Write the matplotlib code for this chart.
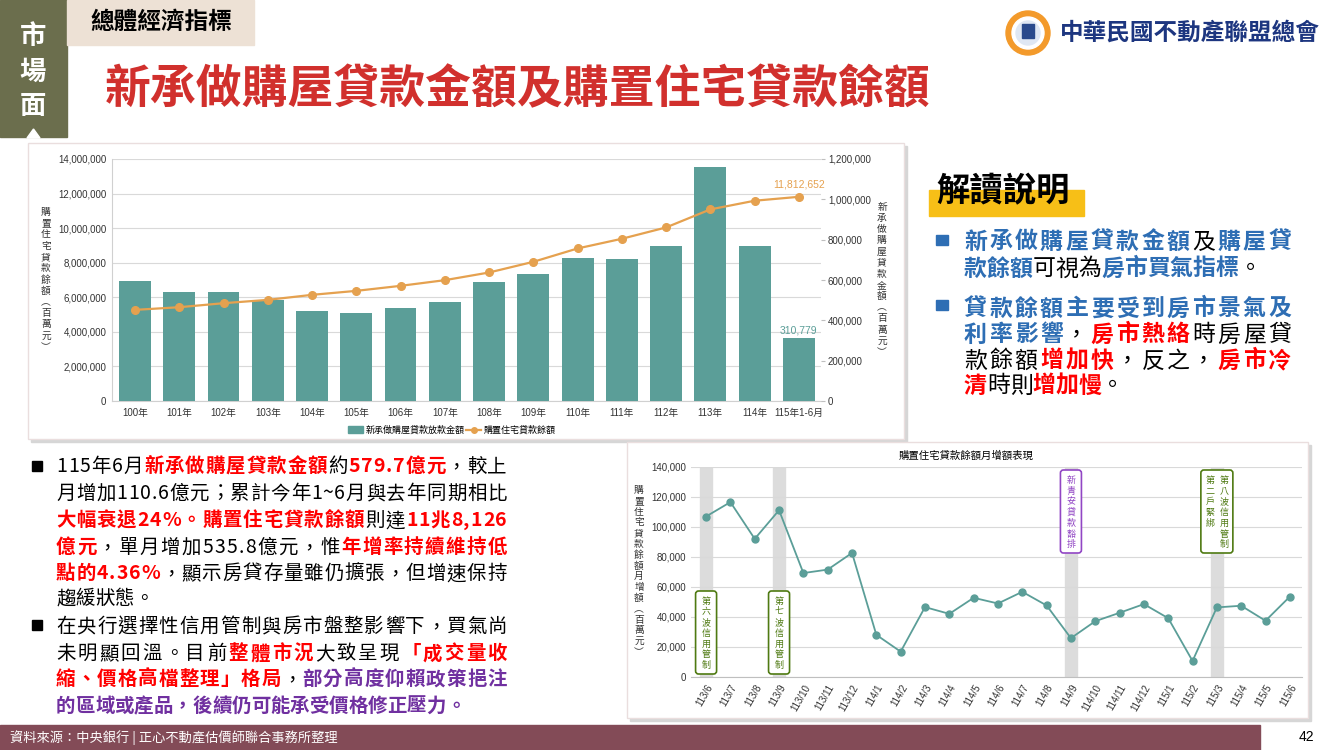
import numpy as np
import matplotlib
matplotlib.use('Agg')
import matplotlib.pyplot as plt
from matplotlib.patches import Rectangle, Circle, Polygon, FancyBboxPatch
from matplotlib.lines import Line2D
from matplotlib.ticker import FuncFormatter

# ---- data ----
years = ['100年', '101年', '102年', '103年', '104年', '105年', '106年', '107年',
         '108年', '109年', '110年', '111年', '112年', '113年', '114年', '115年1-6月']
new_loans = [595900, 541200, 541200, 501500, 446900, 437000, 461800, 491600,
             590900, 630600, 710100, 705100, 766300, 1161900, 769700, 310779]
balance = [5271700, 5426000, 5658000, 5851000, 6141000, 6372000, 6662000, 6990000,
           7434000, 8052000, 8825000, 9385000, 10041000, 11084000, 11586000, 11812652]

months = ['113/6', '113/7', '113/8', '113/9', '113/10', '113/11', '113/12',
          '114/1', '114/2', '114/3', '114/4', '114/5', '114/6', '114/7', '114/8',
          '114/9', '114/10', '114/11', '114/12', '115/1', '115/2', '115/3',
          '115/4', '115/5', '115/6']
monthly_inc = [107000, 116600, 92100, 111200, 69300, 71600, 82700,
               28100, 16900, 46600, 42100, 52800, 49000, 56800, 47700,
               25900, 37200, 42800, 48600, 39200, 10700, 46400,
               47500, 37500, 53580]

event_months = ['113/6', '113/9', '114/9', '115/3']
event_labels = [['第六波信用管制'], ['第七波信用管制'], ['新青安貸款豁排'],
                ['第八波信用管制', '第二戶緊綁']]

# ---- colours / fonts ----
TEAL = '#5b9e98'
ORANGE = '#e5a14f'
RED = '#ff0000'
BLUE = '#2e6eb4'
PURPLE = '#7030a0'
GREEN = '#4f7a12'
VIOLET = '#9146c4'
CJK = ['Noto Sans CJK TC', 'DejaVu Sans']
NUM = ['Liberation Sans', 'Noto Sans CJK TC']
plt.rcParams['font.family'] = CJK

W, H = 1330, 750
fig = plt.figure(figsize=(13.3, 7.5), dpi=100)
bg = fig.add_axes([0, 0, 1, 1])
bg.set_xlim(0, W)
bg.set_ylim(H, 0)
bg.axis('off')
renderer = fig.canvas.get_renderer()


def fig_rect(l, t, r, b):
    return [l / W, 1 - b / H, (r - l) / W, (b - t) / H]


_adv = {}


def advance(ch, size, weight):
    key = (ch, size, weight)
    if key not in _adv:
        a = bg.text(0, 0, '中' + ch + '中', fontsize=size, weight=weight)
        b = bg.text(0, 0, '中中', fontsize=size, weight=weight)
        _adv[key] = a.get_window_extent(renderer).width - b.get_window_extent(renderer).width
        a.remove()
        b.remove()
    return _adv[key]


def rich_line(x0, yc, parts, size, width=None):
    items = [(ch, col, 'bold' if bd else 'normal') for s, col, bd in parts for ch in s]
    advs = [advance(ch, size, w) for ch, _, w in items]
    gap = (width - sum(advs)) / (len(items) - 1) if width else 0.0
    base = yc + 0.37 * size * 100 / 72
    x = x0
    for (ch, col, w), a in zip(items, advs):
        bg.text(x, base, ch, fontsize=size, color=col, weight=w, ha='left', va='baseline')
        x += a + gap


def vstack(axis, x, y0, text, step, **kw):
    for i, ch in enumerate(text):
        axis.text(x, y0 + i * step, ch, ha='center', va='center', **kw)


def to_px(ax, x, y):
    dx, dy = ax.transData.transform((x, y))
    return dx, H - dy


# ---- slide decorations ----
bg.add_patch(Rectangle((0, 0), 67, 137, color='#6b6e4d'))
bg.add_patch(Polygon([[27, 138], [40, 138], [33.5, 129]], color='white'))
for ch, y in zip('市場面', [37, 72, 107]):
    bg.text(33, y, ch, color='white', fontsize=19, weight='bold', ha='center', va='center')
bg.add_patch(Rectangle((67, 0), 187, 45, color='#ede1d5'))
bg.text(161, 22, '總體經濟指標', fontsize=17, weight='bold', ha='center', va='center')
bg.text(105, 90, '新承做購屋貸款金額及購置住宅貸款餘額', color='#d1302d', fontsize=33,
        weight='heavy', va='center')

# logo
bg.add_patch(Circle((1028, 33), 22, color='#f39a2b'))
bg.add_patch(Circle((1028, 33), 16, color='white'))
bg.add_patch(Circle((1028, 33), 12, color='#dfe7f3'))
bg.add_patch(Rectangle((1022, 24), 12, 14, color='#2a4a8c'))
bg.text(1060, 33, '中華民國不動產聯盟總會', color='#1d3680', fontsize=17, weight='bold', va='center')

# chart frames
bg.add_patch(Rectangle((31, 146), 876, 296, color='#d6d6d6'))
bg.add_patch(Rectangle((28, 143), 876, 296, fc='white', ec='#eadede', lw=1))
bg.add_patch(Rectangle((630, 445), 681, 276, color='#d6d6d6'))
bg.add_patch(Rectangle((627, 442), 681, 276, fc='white', ec='#eadede', lw=1))

# footer
bg.add_patch(Rectangle((0, 725), 1260, 25, color='#834b57'))
bg.text(10, 738, '資料來源：中央銀行 | 正心不動產估價師聯合事務所整理', color='white',
        fontsize=9.5, va='center')
bg.text(1306, 737, '42', fontsize=10, ha='center', va='center', family=NUM)

# ---- top chart ----
x = np.arange(len(years))
ax = fig.add_axes(fig_rect(112, 159, 821, 401))
ax.set_xlim(-0.52, len(years) - 0.5)
ax.set_ylim(0, 14e6)
ax.set_yticks(np.arange(0, 14e6 + 1, 2e6))
ax.yaxis.set_major_formatter(FuncFormatter(lambda v, p: f'{v:,.0f}'))
ax.grid(axis='y', color='#d9d9d9', lw=0.8)
ax.set_axisbelow(True)
ax.set_xticks(x)
ax.set_xticklabels(years)
ax.tick_params(length=0, labelsize=7, colors='#333333')
ax.tick_params(axis='x', pad=5)
ax.tick_params(axis='y', pad=4)
for lab in ax.get_xticklabels() + ax.get_yticklabels():
    lab.set_family(NUM)
for s in ['top', 'right']:
    ax.spines[s].set_visible(False)
for s in ['left', 'bottom']:
    ax.spines[s].set_color('#d0d0d0')

axb = ax.twinx()
axb.set_ylim(0, 1.2e6)
axb.set_yticks(np.arange(0, 1.2e6 + 1, 2e5))
axb.yaxis.set_major_formatter(FuncFormatter(lambda v, p: f'{v:,.0f}'))
axb.tick_params(axis='y', length=3, color='#bfbfbf', labelsize=7, labelcolor='#333333', pad=2)
for lab in axb.get_yticklabels():
    lab.set_family(NUM)
for s in axb.spines.values():
    s.set_visible(False)
axb.bar(x, new_loans, width=0.72, color=TEAL)
axb.annotate(f'{new_loans[-1]:,}', (x[-1], new_loans[-1]), xytext=(0, 2),
             textcoords='offset points', ha='center', va='bottom', color=TEAL,
             fontsize=7.5, family=NUM)

axl = ax.twinx()
axl.set_ylim(0, 14e6)
axl.yaxis.set_visible(False)
for s in axl.spines.values():
    s.set_visible(False)
axl.plot(x, balance, color=ORANGE, lw=1.6, marker='o', ms=5.5)
axl.annotate(f'{balance[-1]:,}', (x[-1], balance[-1]), xytext=(0, 5),
             textcoords='offset points', ha='center', va='bottom', color=ORANGE,
             fontsize=7.5, family=NUM)

handles = [Rectangle((0, 0), 1, 1, color=TEAL),
           Line2D([], [], color=ORANGE, lw=1.6, marker='o', ms=4)]
ax.legend(handles, ['新承做購屋貸款放款金額', '購置住宅貸款餘額'], ncol=2, frameon=False,
          loc='center', bbox_to_anchor=(452 / W, 1 - 430 / H), bbox_transform=fig.transFigure,
          fontsize=6.5, handlelength=1.6, handletextpad=0.3, columnspacing=0.2)

vstack(bg, 46, 212, '購置住宅貸款餘額︵百萬元︶', 11.25, fontsize=7, color='#333333')
vstack(bg, 882, 207, '新承做購屋貸款金額︵百萬元︶', 11.15, fontsize=7, color='#333333')

# ---- bottom chart ----
xm = np.arange(len(months))
ax2 = fig.add_axes(fig_rect(691, 467, 1302, 677))
ax2.set_xlim(-0.62, len(months) - 0.5)
ax2.set_ylim(0, 140000)
ax2.set_yticks(np.arange(0, 140001, 20000))
ax2.yaxis.set_major_formatter(FuncFormatter(lambda v, p: f'{v:,.0f}'))
ax2.grid(axis='y', color='#d9d9d9', lw=0.8)
ax2.set_axisbelow(True)
ax2.set_xticks(xm)
ax2.set_xticklabels(months, rotation=60, ha='right', rotation_mode='anchor')
ax2.tick_params(length=0, labelsize=7, colors='#333333')
ax2.tick_params(axis='x', pad=4)
for lab in ax2.get_xticklabels() + ax2.get_yticklabels():
    lab.set_family(NUM)
for s in ['top', 'right', 'left']:
    ax2.spines[s].set_visible(False)
ax2.spines['bottom'].set_color('#bfbfbf')

for m in event_months:
    i = months.index(m)
    ax2.axvspan(i - 0.24, i + 0.24, color='#dcdcdc', zorder=0)
ax2.plot(xm, monthly_inc, color=TEAL, lw=1.3, marker='o', ms=5, zorder=3)

bg.text(966, 456, '購置住宅貸款餘額月增額表現', fontsize=7.5, ha='center', va='center')
vstack(bg, 639, 490, '購置住宅貸款餘額月增額︵百萬元︶', 10.8, fontsize=7, color='#333333')

# event boxes on a transparent overlay, anchored on the data positions
ov = fig.add_axes([0, 0, 1, 1])
ov.set_xlim(0, W)
ov.set_ylim(H, 0)
ov.axis('off')
ov.patch.set_visible(False)
_, y_bot = to_px(ax2, 0, 0)
_, y_top = to_px(ax2, 0, 140000)
for m, cols in zip(event_months, event_labels):
    i = months.index(m)
    cx, _ = to_px(ax2, i, 0)
    col = VIOLET if m == '114/9' else GREEN
    bw = 21 if len(cols) == 1 else 32
    bh = 83
    top = y_top + 3 if i > 10 else y_bot - 3 - bh
    ov.add_patch(FancyBboxPatch((cx - bw / 2 + 3, top + 3), bw - 6, bh - 6,
                                boxstyle='round,pad=3', fc='white', ec=col, lw=1.2))
    offs = [0] if len(cols) == 1 else [7, -7]
    for text, dx in zip(cols, offs):
        vstack(ov, cx + dx, top + 10, text, 10.8, fontsize=6.5, color=col)

# ---- right explanation panel ----
bg.add_patch(Rectangle((929, 190), 155, 26, color='#f7bf17'))
bg.text(936, 192, '解讀說明', fontsize=24, weight='bold', va='center')
bg.add_patch(Rectangle((936, 235), 12, 10, color=BLUE))
bg.add_patch(Rectangle((936, 300), 12, 10, color=BLUE))
K = 'black'
rich_line(964, 240, [('新承做購屋貸款金額', BLUE, 1), ('及', K, 0), ('購屋貸', BLUE, 1)], 16.5, 327)
rich_line(964, 267, [('款餘額', BLUE, 1), ('可視為', K, 0), ('房市買氣指標', BLUE, 1), ('。', K, 0)], 16.5)
rich_line(964, 307, [('貸款餘額主要受到房市景氣及', BLUE, 1)], 16.5, 327)
rich_line(964, 333, [('利率影響', BLUE, 1), ('，', K, 0), ('房市熱絡', RED, 1), ('時房屋貸', K, 0)], 16.5, 327)
rich_line(964, 359, [('款餘額', K, 0), ('增加快', RED, 1), ('，反之，', K, 0), ('房市冷', RED, 1)], 16.5, 327)
rich_line(964, 384, [('清', RED, 1), ('時則', K, 0), ('增加慢', RED, 1), ('。', K, 0)], 16.5)

# ---- bottom-left commentary ----
bg.add_patch(Rectangle((32, 461), 10, 10, color='black'))
bg.add_patch(Rectangle((32, 620), 10, 10, color='black'))
TW = 451
rich_line(56, 465, [('115年6月', K, 0), ('新承做購屋貸款金額', RED, 1), ('約', K, 0),
                    ('579.7億元', RED, 1), ('，較上', K, 0)], 14, TW)
rich_line(56, 492, [('月增加110.6億元；累計今年1~6月與去年同期相比', K, 0)], 14, TW)
rich_line(56, 519, [('大幅衰退24%。', RED, 1), ('購置住宅貸款餘額', RED, 1), ('則達', K, 0),
                    ('11兆8,126', RED, 1)], 14, TW)
rich_line(56, 546, [('億元', RED, 1), ('，單月增加535.8億元，惟', K, 0), ('年增率持續維持低', RED, 1)], 14, TW)
rich_line(56, 572, [('點的4.36%', RED, 1), ('，顯示房貸存量雖仍擴張，但增速保持', K, 0)], 14, TW)
rich_line(56, 597, [('趨緩狀態。', K, 0)], 14)
rich_line(56, 625, [('在央行選擇性信用管制與房市盤整影響下，買氣尚', K, 0)], 14, TW)
rich_line(56, 652, [('未明顯回溫。目前', K, 0), ('整體市況', RED, 1), ('大致呈現', K, 0),
                    ('「成交量收', RED, 1)], 14, TW)
rich_line(56, 678, [('縮、價格高檔整理」格局', RED, 1), ('，', K, 0), ('部分高度仰賴政策挹注', PURPLE, 1)], 14, TW)
rich_line(56, 705, [('的區域或產品，後續仍可能承受價格修正壓力。', PURPLE, 1)], 14)

fig.savefig('out.png', dpi=100)
